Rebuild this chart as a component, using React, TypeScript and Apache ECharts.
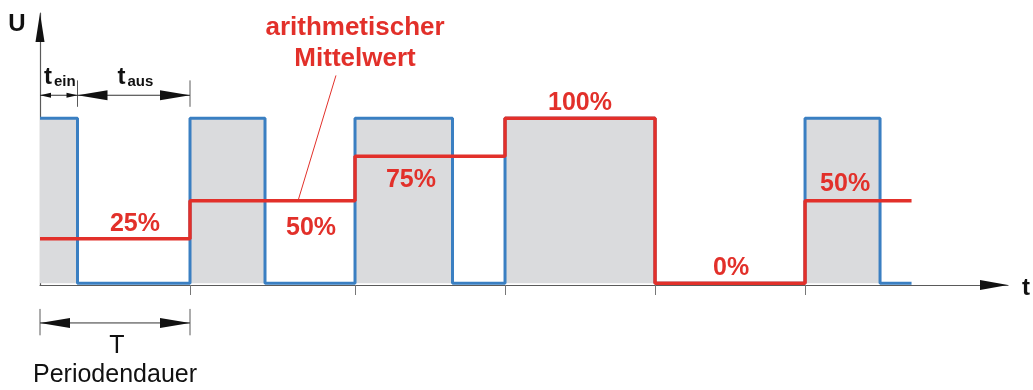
import React, { useEffect, useRef } from "react";
import * as echarts from "echarts";

// ---- data (time in ms-like units, level in % of U) ----
const periodStart = [0, 10, 21, 31, 41, 51];
const signalEnd = 58.1;
const onDuration = [2.5, 5, 6.5, 10, 0, 5];
const meanLevel = [27, 50, 77, 100, 0, 50];
const dutyLabels = ["25%", "50%", "75%", "100%", "0%", "50%"];
const HIGH = 100;
const periodTicks = periodStart.slice(1);

const FONT = "'Liberation Sans', Arial, sans-serif";
const RED = "#e2302a";
const BLUE = "#3a7fc2";
const GREY_FILL = "#dadbdd";
const AXIS = "#5a5a5a";
const DARK = "#111111";

// label anchor points (data coords) for annotation texts
const dutyLabelPos = [
  [6.33, 37],
  [18.07, 35],
  [24.73, 64],
  [36, 110.5],
  [46.07, 10.5],
  [53.67, 61.5],
];

export default function App() {
  const ref = useRef<HTMLDivElement>(null);
  useEffect(() => {
    const chart = echarts.init(ref.current!, null, { renderer: "svg" });

    const blue: number[][] = [];
    periodStart.forEach((s, i) => {
      if (onDuration[i] > 0) {
        blue.push([s, HIGH]);
        blue.push([s + onDuration[i], 0]);
      } else blue.push([s, 0]);
    });
    blue.push([signalEnd, 0]);

    const red = periodStart.map((s, i) => [s, meanLevel[i]]);
    red.push([signalEnd, meanLevel[meanLevel.length - 1]]);

    chart.setOption({
      animation: false,
      grid: { left: 40, right: 25, top: 13, bottom: 105 },
      xAxis: {
        type: "value",
        min: 0,
        max: 64.53,
        axisLine: { onZero: false, lineStyle: { color: AXIS, width: 1.2 } },
        axisTick: {
          show: true,
          customValues: periodTicks,
          length: 10,
          lineStyle: { color: "#777", width: 1 },
        },
        axisLabel: { show: false },
        splitLine: { show: false },
      },
      yAxis: {
        type: "value",
        min: -1,
        max: 163.85,
        axisLine: { show: true, onZero: false, lineStyle: { color: AXIS, width: 1.2 } },
        axisTick: { show: false },
        axisLabel: { show: false },
        splitLine: { show: false },
      },
      series: [
        {
          type: "line",
          data: blue,
          step: "end",
          symbol: "none",
          lineStyle: { color: BLUE, width: 3 },
          areaStyle: { color: GREY_FILL, opacity: 1 },
          z: 2,
        },
        {
          type: "line",
          data: red,
          step: "end",
          symbol: "none",
          lineStyle: { color: RED, width: 3.5 },
          z: 3,
        },
      ],
    });

    const px = (x: number, y: number) =>
      chart.convertToPixel({ gridIndex: 0 }, [x, y]) as number[];

    const arrow = (tip: number[], dir: string, len: number, half: number) => {
      const [x, y] = tip;
      let pts: number[][];
      if (dir === "r") pts = [[x, y], [x - len, y - half], [x - len, y + half]];
      else if (dir === "l") pts = [[x, y], [x + len, y - half], [x + len, y + half]];
      else pts = [[x, y], [x - half, y + len], [x + half, y + len]];
      return { type: "polygon", shape: { points: pts }, style: { fill: DARK }, silent: true, z: 10 };
    };
    const line = (a: number[], b: number[], color: string, w: number) => ({
      type: "line",
      shape: { x1: a[0], y1: a[1], x2: b[0], y2: b[1] },
      style: { stroke: color, lineWidth: w },
      silent: true,
      z: 9,
    });
    const txt = (
      p: number[],
      text: string,
      size: number,
      weight: string,
      color: string,
      align = "center"
    ) => ({
      type: "text",
      x: p[0],
      y: p[1],
      style: {
        text,
        fontSize: size,
        fontWeight: weight,
        fontFamily: FONT,
        fill: color,
        align,
        verticalAlign: "middle",
      },
      silent: true,
      z: 11,
    });

    const els: any[] = [];
    // axis arrows
    const xEnd = px(64.53, -1);
    const yEnd = px(0, 163.85);
    els.push(arrow(xEnd, "r", 28, 5));
    els.push(arrow(yEnd, "u", 29, 4.5));
    els.push(txt([yEnd[0] - 23, yEnd[1] + 9], "U", 24, "bold", DARK));
    els.push(txt([xEnd[0] + 14, xEnd[1] + 1], "t", 24, "bold", DARK, "left"));

    // top dimension: t_ein / t_aus
    const t0 = periodStart[0];
    const tOff = periodStart[0] + onDuration[0];
    const t1 = periodStart[1];
    const dimY = 114;
    els.push(line(px(tOff, 107), px(tOff, 123), AXIS, 1));
    els.push(line(px(t1, 107), px(t1, 123), AXIS, 1));
    els.push(line(px(t0, dimY), px(t1, dimY), "#333", 1));
    els.push(arrow(px(t0, dimY), "l", 11, 2.5));
    els.push(arrow(px(tOff, dimY), "r", 11, 2.5));
    els.push(arrow(px(tOff, dimY), "l", 30, 5));
    els.push(arrow(px(t1, dimY), "r", 30, 5));
    const ein = px(t0, dimY);
    els.push(txt([ein[0] + 4, ein[1] - 20], "t", 24, "bold", DARK, "left"));
    els.push(txt([ein[0] + 14, ein[1] - 15], "ein", 15, "bold", DARK, "left"));
    const aus = px(tOff, dimY);
    els.push(txt([aus[0] + 40, aus[1] - 20], "t", 24, "bold", DARK, "left"));
    els.push(txt([aus[0] + 50, aus[1] - 15], "aus", 15, "bold", DARK, "left"));

    // bottom dimension: T
    const bY = -24;
    els.push(line(px(t0, -15.5), px(t0, -31.5), AXIS, 1));
    els.push(line(px(t1, -15.5), px(t1, -31.5), AXIS, 1));
    els.push(line(px(t0, bY), px(t1, bY), "#333", 1));
    els.push(arrow(px(t0, bY), "l", 30, 5));
    els.push(arrow(px(t1, bY), "r", 30, 5));
    const mid = px((t0 + t1) / 2, bY);
    els.push(txt([mid[0] + 2, mid[1] + 21], "T", 25, "normal", DARK));
    els.push(txt([mid[0], mid[1] + 50], "Periodendauer", 25, "normal", DARK));

    // duty labels
    dutyLabels.forEach((l, i) => {
      const p = px(dutyLabelPos[i][0], dutyLabelPos[i][1]);
      els.push(txt(p, l, 25, "bold", RED));
    });

    // title + leader
    els.push(txt(px(21, 156), "arithmetischer", 26, "bold", RED));
    els.push(txt(px(21, 137), "Mittelwert", 26, "bold", RED));
    els.push(line(px(19.73, 126), px(17.2, meanLevel[1]), RED, 1));

    chart.setOption({ graphic: els });
    return () => chart.dispose();
  }, []);
  return (
    <div
      ref={ref}
      style={{ position: "fixed", left: 0, top: 0, width: 1033, height: 390 }}
    />
  );
}
